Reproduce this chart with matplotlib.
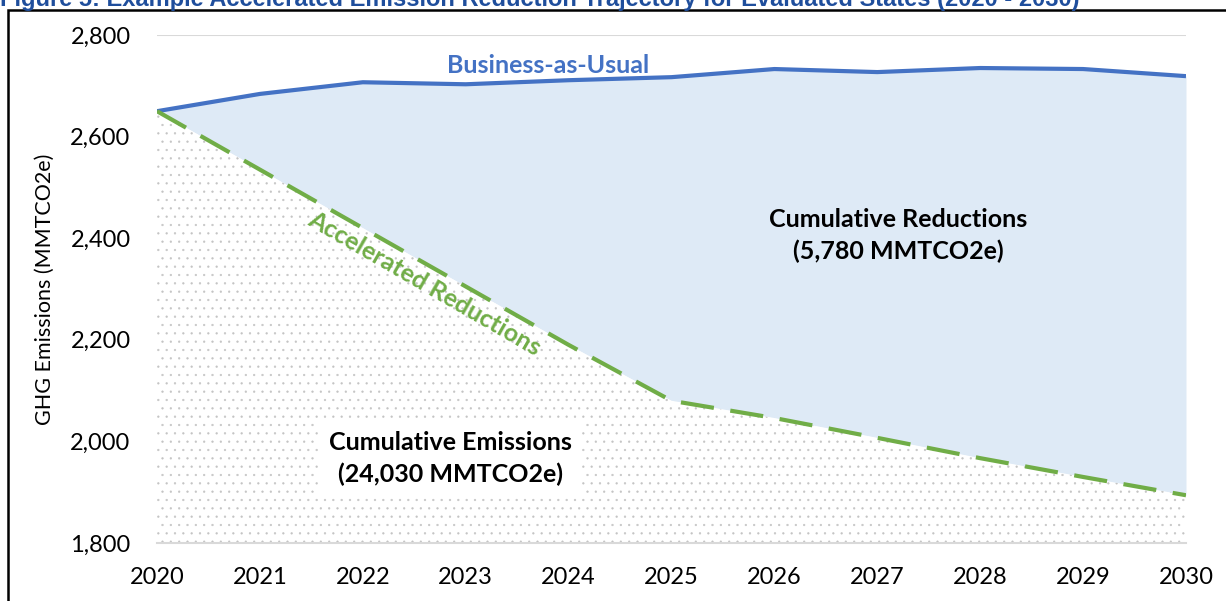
import matplotlib.pyplot as plt
from matplotlib.patches import Rectangle

years = [2020, 2021, 2022, 2023, 2024, 2025, 2026, 2027, 2028, 2029, 2030]
bau = [2650, 2684, 2707, 2703, 2711, 2717, 2733, 2727, 2735, 2733, 2719]
accelerated = [2650, 2535, 2420, 2305, 2190, 2080, 2046, 2007, 1967, 1930, 1894]
yticks = [1800, 2000, 2200, 2400, 2600, 2800]

plt.rcParams["font.family"] = ["Lato", "DejaVu Sans"]
plt.rcParams["hatch.linewidth"] = 0.4

fig = plt.figure(figsize=(12.26, 6.01), dpi=100)
ax = fig.add_axes([157 / 1226, 1 - 543 / 601, (1186 - 157) / 1226, (543 - 35) / 601])

# reductions area and emissions area
ax.fill_between(years, accelerated, bau, color="#deeaf6", linewidth=0, zorder=1)
ax.fill_between(years, 1800, accelerated, facecolor="white", edgecolor="#c4c4c4",
                hatch="..", linewidth=0, zorder=1)

ax.plot(years, bau, color="#4472c4", linewidth=3, zorder=3, solid_capstyle="butt")
ax.plot(years, accelerated, color="#70ad47", linewidth=3, dashes=(8, 4), zorder=3)

ax.set_xlim(2020, 2030)
ax.set_ylim(1800, 2800)
ax.set_xticks(years)
ax.set_yticks(yticks)
ax.set_yticklabels([f"{v:,}" for v in yticks])
ax.tick_params(axis="both", length=0, labelsize=17, colors="black")
ax.tick_params(axis="y", pad=19)
ax.tick_params(axis="x", pad=17)
ax.grid(axis="y", color="#d9d9d9", linewidth=1.5, zorder=0)
ax.set_axisbelow(True)
for s in ["top", "right", "left"]:
    ax.spines[s].set_visible(False)
ax.spines["bottom"].set_color("#d9d9d9")
ax.spines["bottom"].set_linewidth(1.5)
ax.spines["bottom"].set_zorder(2)

ax.set_ylabel("GHG Emissions (MMTCO2e)", fontsize=15.5, labelpad=11)

ax.text(2023.8, 2740, "Business-as-Usual", color="#4472c4", fontsize=18,
        fontweight="bold", ha="center", va="center", zorder=4)
ax.text(2022.6, 2310, "Accelerated Reductions", color="#70ad47", fontsize=18,
        fontweight="bold", ha="center", va="center", rotation=-30,
        rotation_mode="anchor", zorder=4)
ax.text(2027.2, 2405, "Cumulative Reductions\n(5,780 MMTCO2e)", fontsize=18,
        fontweight="bold", ha="center", va="center", linespacing=1.45, zorder=4)
ax.text(2022.85, 1966, "Cumulative Emissions\n(24,030 MMTCO2e)", fontsize=18,
        fontweight="bold", ha="center", va="center", linespacing=1.45, zorder=4,
        bbox=dict(facecolor="white", edgecolor="none", pad=7))

# figure caption (cut off at the top) and frame
fig.text(0, 1 - 6 / 601, "Figure 5: Example Accelerated Emission Reduction Trajectory "
         "for Evaluated States (2020 - 2030)", family=["Liberation Sans", "DejaVu Sans"],
         fontsize=17, fontweight="bold", color="#1f4e9c", ha="left", va="baseline")
fig.patches.append(Rectangle((8 / 1226, -0.2), 1.2, 1.2 - 10 / 601, transform=fig.transFigure,
                             fill=False, edgecolor="black", linewidth=1.8))

fig.savefig("out.png", dpi=100)
